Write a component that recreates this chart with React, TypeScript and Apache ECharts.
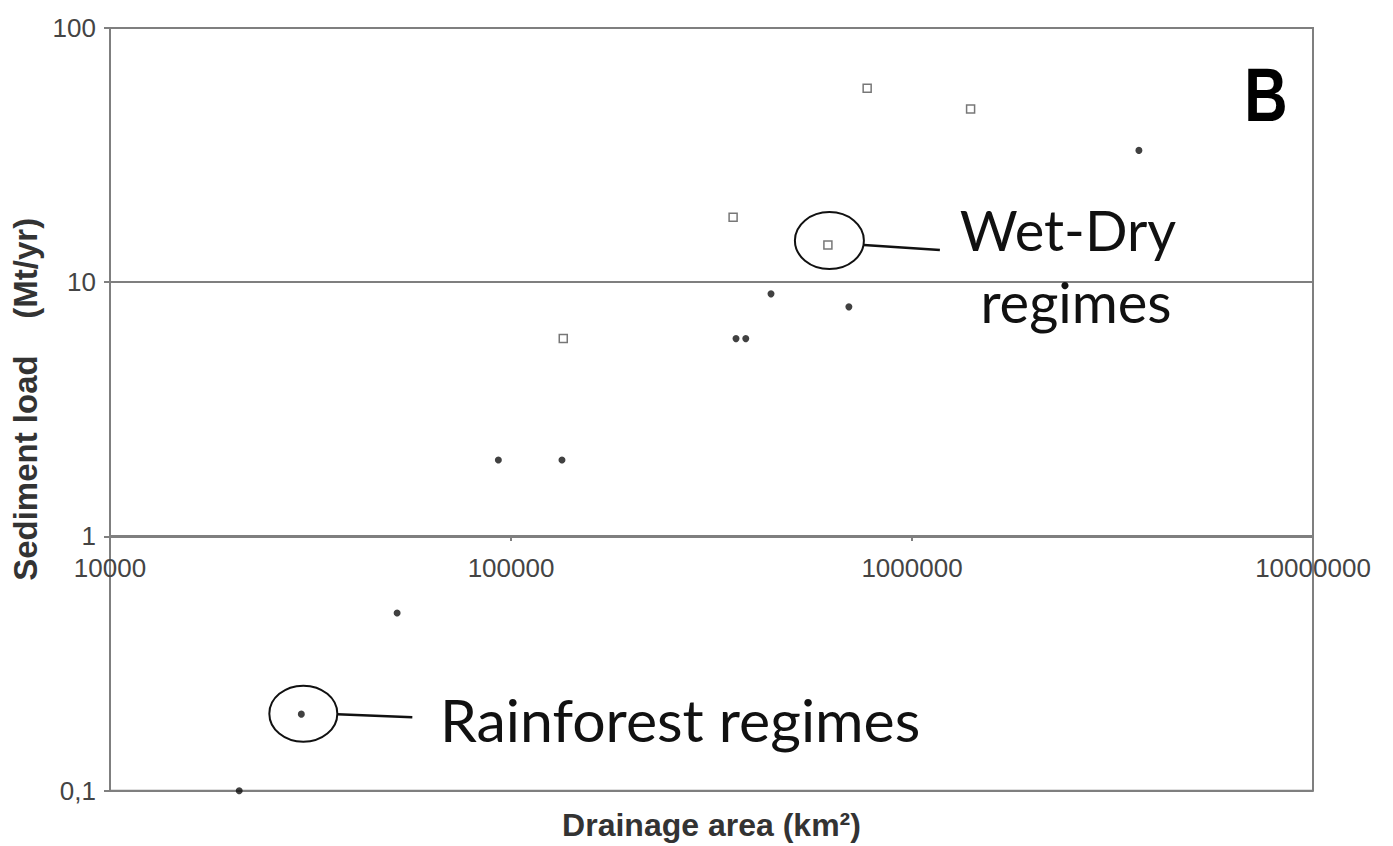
import React, { useEffect, useRef } from "react";
import * as echarts from "echarts";

// Drainage area (km²) and sediment load (Mt/yr)
const rainforestArea = [21000, 30000, 52000, 93000, 134000, 364000, 385000, 445000, 696000, 3680000];
const rainforestLoad = [0.1, 0.2, 0.5, 2, 2, 6, 6, 9, 8, 33];
const wetDryArea = [135000, 358000, 617000, 773000, 1400000];
const wetDryLoad = [6, 18, 14, 58, 48];

const xTicks = [10000, 100000, 1000000, 10000000];
const yTicks = [0.1, 1, 10, 100];

const rainforestLabel = "Rainforest regimes";
const wetDryLabel = ["Wet-Dry", "regimes"];
const panelLabel = "B";

const AXIS = "#7f7f7f";

export default function App() {
  const ref = useRef<HTMLDivElement>(null);

  useEffect(() => {
    document.body.style.margin = "0";
    const chart = echarts.init(ref.current!, null, { renderer: "svg" });
    const gridH = 846 - 28 - 54;
    const option: any = {
      animation: false,
      backgroundColor: "#ffffff",
      grid: {
        left: 110,
        right: 80,
        top: 28,
        bottom: 54,
        show: true,
        borderColor: AXIS,
        borderWidth: 2,
      },
      xAxis: {
        type: "log",
        logBase: 10,
        min: xTicks[0],
        max: xTicks[xTicks.length - 1],
        position: "bottom",
        offset: -gridH / 3,
        axisLine: { show: true, lineStyle: { color: AXIS, width: 2 } },
        axisTick: { show: true, length: 5, lineStyle: { color: AXIS, width: 2 } },
        minorTick: { show: false },
        splitLine: { show: false },
        axisLabel: {
          margin: 19,
          fontFamily: "Liberation Sans",
          fontSize: 26,
          color: "#444",
          formatter: (v: number) => String(Math.round(v)),
        },
        name: "Drainage area (km²)",
        nameLocation: "middle",
        nameGap: 273,
        nameTextStyle: {
          fontFamily: "Liberation Sans",
          fontWeight: "bold",
          fontSize: 32,
          color: "#333",
        },
      },
      yAxis: {
        type: "log",
        logBase: 10,
        min: yTicks[0],
        max: yTicks[yTicks.length - 1],
        axisLine: { show: true, lineStyle: { color: AXIS, width: 2 } },
        axisTick: { show: true, length: 6, lineStyle: { color: AXIS, width: 2 } },
        minorTick: { show: false },
        splitLine: { show: true, lineStyle: { color: AXIS, width: 2 } },
        axisLabel: {
          margin: 14,
          fontFamily: "Liberation Sans",
          fontSize: 26,
          color: "#444",
          formatter: (v: number) => String(Number(v.toPrecision(6))).replace(".", ","),
        },
        name: "Sediment load\u00A0\u00A0\u00A0\u00A0(Mt/yr)",
        nameLocation: "middle",
        nameRotate: 90,
        nameGap: 68,
        nameTextStyle: {
          fontFamily: "Liberation Sans",
          fontWeight: "bold",
          fontSize: 33,
          color: "#333",
          padding: [0, 0, 0, 20],
        },
      },
      series: [
        {
          name: "Rainforest regimes",
          type: "scatter",
          symbol: "circle",
          symbolSize: 7,
          itemStyle: { color: "#111" },
          data: rainforestArea.map((a, i) => [a, rainforestLoad[i]]),
          z: 3,
        },
        {
          name: "Wet-Dry regimes",
          type: "scatter",
          symbol: "rect",
          symbolSize: 8,
          itemStyle: { color: "#fff", borderColor: "#555", borderWidth: 1.5 },
          data: wetDryArea.map((a, i) => [a, wetDryLoad[i]]),
          z: 3,
        },
      ],
    };
    chart.setOption(option);

    const rp = chart.convertToPixel({ gridIndex: 0 }, [rainforestArea[1], rainforestLoad[1]]) as number[];
    const wp = chart.convertToPixel({ gridIndex: 0 }, [wetDryArea[2], wetDryLoad[2]]) as number[];
    const annoFont = "Lato";

    chart.setOption({
      graphic: [
        {
          type: "ellipse",
          shape: { cx: rp[0] + 2, cy: rp[1] - 0.5, rx: 34, ry: 28 },
          style: { fill: "none", stroke: "#111", lineWidth: 2 },
        },
        {
          type: "line",
          shape: { x1: rp[0] + 36, y1: rp[1], x2: rp[0] + 111, y2: rp[1] + 3 },
          style: { stroke: "#111", lineWidth: 2.5 },
        },
        {
          type: "ellipse",
          shape: { cx: wp[0] + 1.5, cy: wp[1] - 4.5, rx: 34.5, ry: 28.5 },
          style: { fill: "none", stroke: "#111", lineWidth: 2 },
        },
        {
          type: "line",
          shape: { x1: wp[0] + 36, y1: wp[1], x2: wp[0] + 112, y2: wp[1] + 5 },
          style: { stroke: "#111", lineWidth: 2.5 },
        },
        {
          type: "text",
          style: {
            text: rainforestLabel,
            x: 440,
            y: 719,
            align: "left",
            verticalAlign: "middle",
            font: `59px ${annoFont}`,
            fill: "#111",
          },
        },
        {
          type: "text",
          style: {
            text: wetDryLabel[0],
            x: 1068,
            y: 229,
            align: "center",
            verticalAlign: "middle",
            font: `56px ${annoFont}`,
            fill: "#111",
          },
        },
        {
          type: "text",
          style: {
            text: wetDryLabel[1],
            x: 1076,
            y: 301,
            align: "center",
            verticalAlign: "middle",
            font: `56px ${annoFont}`,
            fill: "#111",
          },
        },
        {
          type: "text",
          x: 1266,
          y: 95,
          scaleY: 1.28,
          style: {
            text: panelLabel,
            x: 0,
            y: 0,
            align: "center",
            verticalAlign: "middle",
            font: `bold 60px "Liberation Sans"`,
            fill: "#000",
          },
        },
      ],
    });

    return () => chart.dispose();
  }, []);

  return <div ref={ref} style={{ width: 1393, height: 846 }} />;
}
